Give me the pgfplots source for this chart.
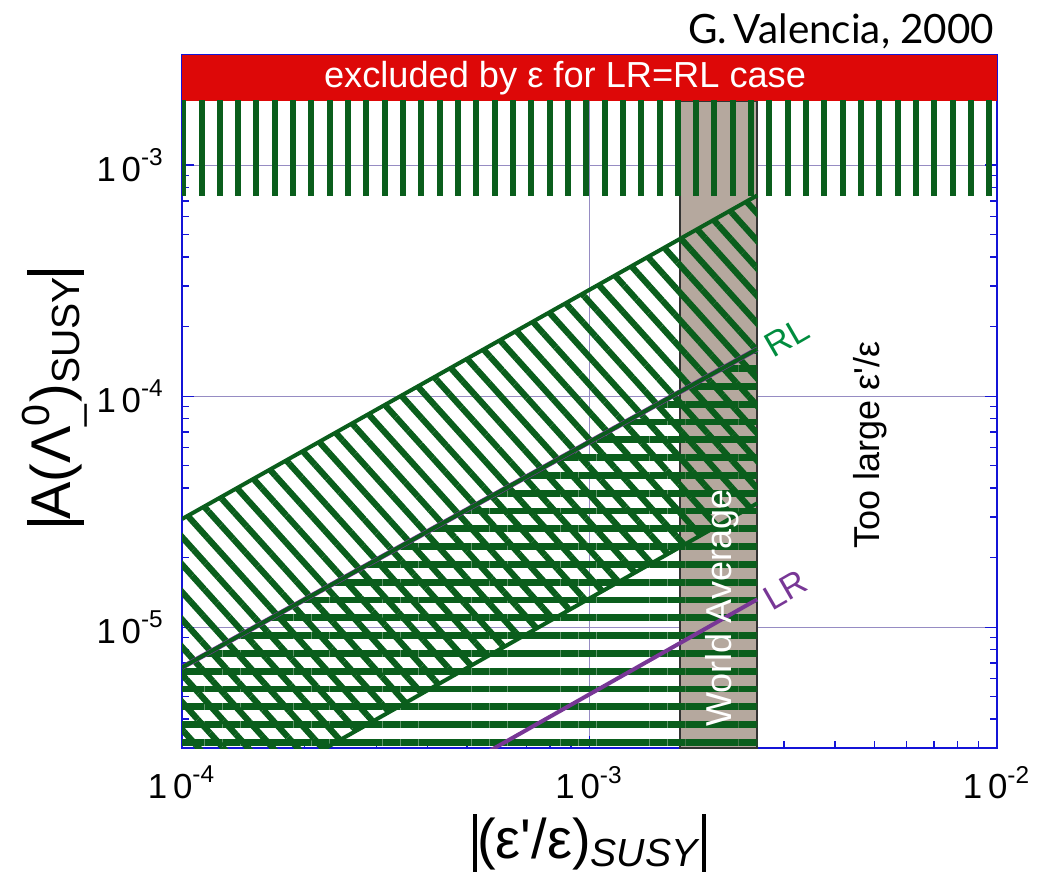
\documentclass[border=0pt]{standalone}
\usepackage{fontspec}
\setmainfont{Liberation Sans}
\newfontfamily\gill{Lato}
\usepackage{pgfplots}
\pgfplotsset{compat=1.18}
\usetikzlibrary{patterns.meta}

\definecolor{hgreen}{RGB}{10,94,28}
\definecolor{exred}{RGB}{221,8,8}
\definecolor{bandgray}{RGB}{181,168,158}
\definecolor{lrpurple}{RGB}{120,55,150}
\definecolor{rlgreen}{RGB}{0,140,62}
\definecolor{axblue}{RGB}{20,20,215}
\definecolor{gridc}{RGB}{150,140,195}

% grid under the plots, ticks and frame over them
\pgfplotsset{layers/gridunder/.define layer set={axis background,axis grid,main,axis ticks,axis lines,axis tick labels,axis descriptions,axis foreground}{}}

\begin{document}
\begin{tikzpicture}
\path (-45.5pt,-31.5pt) rectangle (218.5pt,187pt);
\begin{axis}[
  set layers=gridunder,
  at={(0pt,0pt)}, anchor=south west,
  scale only axis, width=203.75pt, height=173.25pt,
  xmode=log, ymode=log,
  xmin=1e-4, xmax=1e-2, ymin=3e-6, ymax=3e-3,
  axis line style={axblue, line width=0.5pt},
  tick style={axblue, line width=0.35pt},
  major tick length=3pt, minor tick length=1.8pt,
  tick pos=both, tick align=inside,
  xtick={1e-4,1e-3,1e-2},
  xticklabels={{1\,0\textsuperscript{-4}},{1\,0\textsuperscript{-3}},{1\,0\textsuperscript{-2}}},
  minor xtick={2e-4,3e-4,4e-4,5e-4,6e-4,7e-4,8e-4,9e-4,2e-3,3e-3,4e-3,5e-3,6e-3,7e-3,8e-3,9e-3},
  ytick={1e-5,1e-4,1e-3},
  yticklabels={{1\,0\textsuperscript{-5}},{1\,0\textsuperscript{-4}},{1\,0\textsuperscript{-3}}},
  minor ytick={4e-6,5e-6,6e-6,7e-6,8e-6,9e-6,2e-5,3e-5,4e-5,5e-5,6e-5,7e-5,8e-5,9e-5,2e-4,3e-4,4e-4,5e-4,6e-4,7e-4,8e-4,9e-4,2e-3},
  tick label style={font=\fontsize{8.7}{10}\selectfont, black},
  xticklabel style={yshift=-1pt},
  yticklabel style={xshift=-0.8pt},
  grid=major,
  major grid style={gridc, line width=0.3pt},
  xlabel={\fontsize{14}{16}\selectfont\rule[-0.24em]{1pt}{1.02em}(ε\textquotesingle/ε)\textsubscript{\textit{SUSY}}\rule[-0.24em]{1pt}{1.02em}},
  xlabel style={at={(rel axis cs:0.5,-0.137)}, anchor=center},
  ylabel={\fontsize{14}{16}\selectfont\rule[-0.24em]{1.3pt}{1.02em}A(Λ\rlap{\textsuperscript{0}}\textsubscript{\_})\textsubscript{SUSY}\rule[-0.24em]{1.3pt}{1.02em}},
  ylabel style={at={(rel axis cs:-0.156,0.506)}, anchor=center},
  title={\gill\fontsize{10.1}{12}\selectfont G.\,Valencia, 2000},
  title style={at={(rel axis cs:0.9975,1.016)}, anchor=base east, inner sep=0pt, yshift=-6pt},
]
% world average band
\addplot[draw=black!80, line width=0.4pt, fill=bandgray] coordinates {
  (1.67e-3,3e-6) (2.58e-3,3e-6) (2.58e-3,1.9e-3) (1.67e-3,1.9e-3)} -- cycle;
% excluded by epsilon
\addplot[draw=none, fill=exred] coordinates {
  (1e-4,1.9e-3) (1e-2,1.9e-3) (1e-2,3e-3) (1e-4,3e-3)} -- cycle;
% vertical hatch
\addplot[draw=none, pattern={Lines[angle=90,distance=4.58pt,line width=1.5pt]}, pattern color=hgreen] coordinates {
  (1e-4,7.4e-4) (1e-2,7.4e-4) (1e-2,1.9e-3) (1e-4,1.9e-3)} -- cycle;
% RL band, slanted hatch
\addplot[draw=none, pattern={Lines[angle=-48,distance=4.6pt,line width=1.55pt]}, pattern color=hgreen] coordinates {
  (1e-4,2.94e-5) (2.58e-3,7.4e-4) (2.58e-3,3.44e-5) (1e-4,1.33e-6)} -- cycle;
% LR region, horizontal hatch
\addplot[draw=none, pattern={Lines[angle=0,distance=4.45pt,line width=1.7pt]}, pattern color=hgreen] coordinates {
  (1e-4,6.7e-6) (2.58e-3,1.6e-4) (2.58e-3,3e-6) (1e-4,3e-6)} -- cycle;
% band edges
\addplot[hgreen, line width=1pt] coordinates {(1e-4,2.94e-5) (2.58e-3,7.4e-4)};
\addplot[hgreen, line width=1pt] coordinates {(1e-4,1.33e-6) (2.58e-3,3.44e-5)};
\addplot[lrpurple, line width=1.25pt] coordinates {(1e-4,6.7e-6) (2.58e-3,1.6e-4)};
\addplot[hgreen, line width=0.95pt] coordinates {(1e-4,6.7e-6) (2.58e-3,1.6e-4)};
% LR line
\addplot[lrpurple, line width=1pt] coordinates {(5.5e-4,2.82e-6) (2.58e-3,1.32e-5)};

\node[white, font=\fontsize{9.05}{11}\selectfont] at (rel axis cs:0.47,0.967) {excluded by ε for LR=RL case};
\node[white, rotate=90, font=\fontsize{9}{11}\selectfont] at (rel axis cs:0.6626,0.202) {World Average};
\node[black, rotate=90, font=\fontsize{9}{11}\selectfont] at (rel axis cs:0.844,0.437) {Too large ε\textquotesingle/ε};
\node[rlgreen, rotate=30, font=\fontsize{8.6}{10}\selectfont] at (rel axis cs:0.742,0.592) {RL};
\node[lrpurple, rotate=30, font=\fontsize{8.6}{10}\selectfont] at (rel axis cs:0.740,0.228) {LR};
\end{axis}
\end{tikzpicture}
\end{document}
